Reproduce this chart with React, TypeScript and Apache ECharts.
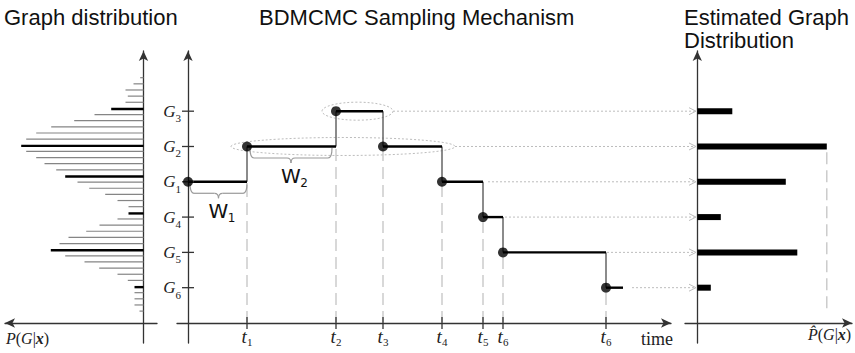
import React, { useEffect, useRef } from "react";
import * as echarts from "echarts";

// ---------- data ----------
const levelNames = ["G6", "G5", "G4", "G1", "G2", "G3"];
const levelValues = [1, 2, 3, 4, 5, 6];

// BDMCMC sampling path (jump times and visited states)
const jumpTimes = [0, 5.9, 14.8, 19.5, 25.4, 29.5, 31.5, 41.8];
const pathStates = ["G1", "G2", "G3", "G2", "G1", "G4", "G5", "G6"];
const pathEnd = 43.5;
const timeTickValues = [5.9, 14.8, 19.5, 25.4, 29.5, 31.5, 41.8];
const timeTickLabels = ["1", "2", "3", "4", "5", "6", "6"];

// true graph distribution (top to bottom)
const trueDist = [3.3, 10, 18, 15.7, 18, 32.3, 49, 69.3, 92.3, 107.3, 117.3, 122.3, 117.3, 107.3, 99, 87.3, 78.3, 66, 54.3, 38.3, 26, 15, 15, 26, 44, 57.3, 75, 84, 92.7, 78.3, 59, 44.3, 26, 15.7, 9, 9, 9, 9, 4];
const trueDistHighlighted = [5, 11, 16, 22, 28, 34];

// estimated graph distribution
const estStates = ["G3", "G2", "G1", "G4", "G5", "G6"];
const estValues = [35, 129.5, 88.5, 23.5, 100, 13.5];

// dotted arrows from sampler to estimate
const arrowStates = ["G3", "G2", "G1", "G4", "G5", "G6"];
const arrowStarts = [20.5, 26.7, 30.0, 31.7, 41.9, 44.4];
const arrowEnd = 50.8;

// dotted ellipses
const ellipseStates = ["G3", "G2"];
const ellipseCenters = [16.95, 15.5];
const ellipseRadii = [3.55, 11.2];

// waiting-time braces
const braceStates = ["G1", "G2"];
const braceFrom = [0.2, 6.2];
const braceTo = [5.9, 14.4];
const braceLabels = ["1", "2"];

// ---------- helpers ----------
const levelOf = (s: string) => levelValues[levelNames.indexOf(s)];
const Y_MIN = -0.567;
const Y_MAX = 7.705;

const SERIF = '"Liberation Serif", "DejaVu Serif", serif';
const SANS = '"Liberation Sans", Arial, sans-serif';

const horizSegs = pathStates.map((s, i) => [jumpTimes[i], levelOf(s), i + 1 < jumpTimes.length ? jumpTimes[i + 1] : pathEnd, levelOf(s)]);
const vertSegs = pathStates.slice(1).map((s, i) => [jumpTimes[i + 1], levelOf(pathStates[i]), jumpTimes[i + 1], levelOf(s)]);
const dashSegs = vertSegs.map((d) => [d[0], 0, d[0], Math.min(d[1], d[3])]);
const dots = pathStates.map((s, i) => [jumpTimes[i], levelOf(s)]);

const segRender = (stroke: string, lineWidth: number, lineDash?: number[]) => (params: any, api: any) => {
  const p0 = api.coord([api.value(0), api.value(1)]);
  const p1 = api.coord([api.value(2), api.value(3)]);
  return {
    type: "line",
    shape: { x1: p0[0], y1: p0[1], x2: p1[0], y2: p1[1] },
    style: { stroke, lineWidth, lineDash: lineDash || null },
  };
};

const subRich = (mainSize: number, subPad: number) => ({
  m: { fontFamily: SERIF, fontStyle: "italic", fontSize: mainSize, color: "#222", lineHeight: mainSize, verticalAlign: "top" },
  s: { fontFamily: SERIF, fontSize: 11, color: "#222", lineHeight: 11, padding: [subPad, 0, 0, 0], verticalAlign: "top" },
});

export default function App() {
  const ref = useRef<HTMLDivElement>(null);
  useEffect(() => {
    if (!ref.current) return;
    const chart = echarts.init(ref.current, null, { renderer: "svg" });
    const axisLineStyle = { color: "#333", width: 1.3 };
    const arrowLine = { show: true, onZero: true, symbol: ["none", "arrow"], symbolSize: [7, 10], lineStyle: axisLineStyle };
    const arrowLineStart = { ...arrowLine, symbol: ["arrow", "none"] };
    const hideBits = { axisTick: { show: false }, splitLine: { show: false }, axisLabel: { show: false } };
    const labelRich = {
      i: { fontFamily: SERIF, fontStyle: "italic", fontSize: 16, fill: "#222" },
      r: { fontFamily: SERIF, fontSize: 16, fill: "#222" },
      b: { fontFamily: SERIF, fontStyle: "italic", fontWeight: "bold", fontSize: 16, fill: "#222" },
    };

    const option: any = {
      animation: false,
      grid: [
        { left: 5, width: 152, top: 51, height: 292, outerBoundsMode: "none" },
        { left: 5, width: 152, top: 78.3, height: 233.4, outerBoundsMode: "none" },
        { left: 177, width: 494, top: 51, height: 292, outerBoundsMode: "none" },
        { left: 685, width: 167, top: 51, height: 292, outerBoundsMode: "none" },
      ],
      xAxis: [
        { gridIndex: 0, type: "value", min: -13.5, max: 138.5, inverse: true, axisLine: arrowLineStart, ...hideBits },
        { gridIndex: 1, type: "value", min: -13.5, max: 138.5, inverse: true, show: false },
        {
          gridIndex: 2, type: "value", min: -1.1, max: 48.3, axisLine: arrowLine,
          axisTick: { show: false }, splitLine: { show: false },
          axisLabel: {
            show: true, customValues: timeTickValues, margin: -16,
            formatter: (v: number) => {
              let best = 0;
              timeTickValues.forEach((t, i) => { if (Math.abs(t - v) < Math.abs(timeTickValues[best] - v)) best = i; });
              return `{m|t}{s|${timeTickLabels[best]}}`;
            },
            rich: subRich(19, 9),
          },
        },
        { gridIndex: 3, type: "value", min: -12.3, max: 154.7, axisLine: arrowLine, ...hideBits },
      ],
      yAxis: [
        { gridIndex: 0, type: "value", min: Y_MIN, max: Y_MAX, axisLine: arrowLine, ...hideBits },
        { gridIndex: 1, type: "category", data: trueDist.map((_, i) => String(i)), inverse: true, boundaryGap: false, show: false },
        {
          gridIndex: 2, type: "value", min: Y_MIN, max: Y_MAX, axisLine: arrowLine,
          axisTick: { show: false }, splitLine: { show: false },
          axisLabel: {
            show: true, customValues: levelValues, margin: -4,
            formatter: (v: number) => {
              const n = levelNames[levelValues.indexOf(v)] || "";
              return `{m|G}{s|${n.slice(1)}}`;
            },
            rich: subRich(17, 10),
          },
        },
        { gridIndex: 3, type: "value", min: Y_MIN, max: Y_MAX, axisLine: arrowLine, ...hideBits },
      ],
      graphic: [
        { type: "text", left: 4, top: 6, style: { text: "Graph distribution", fontSize: 22, fontFamily: SANS, fill: "#111" } },
        { type: "text", left: 259, top: 6, style: { text: "BDMCMC Sampling Mechanism", fontSize: 22, fontFamily: SANS, fill: "#111" } },
        { type: "text", left: 684, top: 6, style: { text: "Estimated Graph\nDistribution", fontSize: 22, lineHeight: 23, fontFamily: SANS, fill: "#111" } },
        { type: "text", left: 6, top: 330, style: { text: "{i|P}{r|(}{i|G}{r||}{b|x}{r|)}", rich: labelRich } },
        { type: "text", left: 641, top: 330, style: { text: "time", fontSize: 18, fontFamily: SERIF, fill: "#222" } },
        { type: "text", left: 808, top: 326, style: { text: "{i|P\u0302}{r|(}{i|G}{r||}{b|x}{r|)}", rich: labelRich } },
      ],
      series: [
        // left: true distribution
        {
          type: "bar", xAxisIndex: 1, yAxisIndex: 1, barWidth: 1.2, barGap: "-100%",
          itemStyle: { color: "#858585" },
          data: trueDist.map((v, i) => (trueDistHighlighted.includes(i) ? "-" : v)),
        },
        {
          type: "bar", xAxisIndex: 1, yAxisIndex: 1, barWidth: 2.4, barGap: "-100%",
          itemStyle: { color: "#000" },
          data: trueDist.map((v, i) => (trueDistHighlighted.includes(i) ? v : "-")),
        },
        // middle: dashed drop lines
        { type: "custom", xAxisIndex: 2, yAxisIndex: 2, z: 1, renderItem: segRender("#c4c4c4", 1.3, [12, 6]), data: dashSegs },
        // dotted ellipses
        {
          type: "custom", xAxisIndex: 2, yAxisIndex: 2, z: 1,
          renderItem: (params: any, api: any) => {
            const c = api.coord([api.value(0), api.value(1)]);
            const rx = api.size([api.value(2), 0])[0];
            return { type: "ellipse", shape: { cx: c[0], cy: c[1], rx, ry: 9 }, style: { fill: "none", stroke: "#bdbdbd", lineWidth: 1, lineDash: [2, 2] } };
          },
          data: ellipseStates.map((s, i) => [ellipseCenters[i], levelOf(s), ellipseRadii[i]]),
        },
        // dotted arrows
        {
          type: "custom", xAxisIndex: 2, yAxisIndex: 2, z: 1,
          renderItem: (params: any, api: any) => {
            const p0 = api.coord([api.value(0), api.value(1)]);
            const p1 = api.coord([api.value(2), api.value(1)]);
            return {
              type: "group",
              children: [
                { type: "line", shape: { x1: p0[0], y1: p0[1], x2: p1[0] - 1, y2: p1[1] }, style: { stroke: "#bdbdbd", lineWidth: 1, lineDash: [2, 2] } },
                { type: "polyline", shape: { points: [[p1[0] - 7, p1[1] - 3.5], [p1[0], p1[1]], [p1[0] - 7, p1[1] + 3.5]] }, style: { stroke: "#bdbdbd", lineWidth: 1, fill: "none" } },
              ],
            };
          },
          data: arrowStates.map((s, i) => [arrowStarts[i], levelOf(s), arrowEnd]),
        },
        // braces
        {
          type: "custom", xAxisIndex: 2, yAxisIndex: 2, z: 2,
          renderItem: (params: any, api: any) => {
            const a = api.coord([api.value(0), api.value(2)]);
            const b = api.coord([api.value(1), api.value(2)]);
            const x0 = a[0], x1 = b[0], y0 = a[1] + 1.5, d = 10, c = 5, r = 4;
            const xm = (x0 + x1) / 2;
            const st = { stroke: "#9a9a9a", lineWidth: 1.2, fill: "none" };
            const label = braceLabels[params.dataIndex];
            return {
              type: "group",
              children: [
                { type: "bezierCurve", shape: { x1: x0, y1: y0, cpx1: x0, cpy1: y0 + d, x2: x0 + r, y2: y0 + d }, style: st },
                { type: "line", shape: { x1: x0 + r, y1: y0 + d, x2: xm - r, y2: y0 + d }, style: st },
                { type: "bezierCurve", shape: { x1: xm - r, y1: y0 + d, cpx1: xm, cpy1: y0 + d, x2: xm, y2: y0 + d + c }, style: st },
                { type: "bezierCurve", shape: { x1: xm + r, y1: y0 + d, cpx1: xm, cpy1: y0 + d, x2: xm, y2: y0 + d + c }, style: st },
                { type: "line", shape: { x1: xm + r, y1: y0 + d, x2: x1 - r, y2: y0 + d }, style: st },
                { type: "bezierCurve", shape: { x1: x1 - r, y1: y0 + d, cpx1: x1, cpy1: y0 + d, x2: x1, y2: y0 }, style: st },
                { type: "text", style: { text: "W", x: xm, y: y0 + d + c + 3, textAlign: "center", textVerticalAlign: "top", fontSize: 20, fontFamily: '"DejaVu Sans", sans-serif', fill: "#111" } },
                { type: "text", style: { text: label, x: xm + 13, y: y0 + d + c + 14, textAlign: "center", textVerticalAlign: "top", fontSize: 12, fontFamily: '"DejaVu Sans", sans-serif', fill: "#111" } },
              ],
            };
          },
          data: braceStates.map((s, i) => [braceFrom[i], braceTo[i], levelOf(s)]),
        },
        // vertical jumps
        { type: "custom", xAxisIndex: 2, yAxisIndex: 2, z: 2, renderItem: segRender("#5a5a5a", 1.4), data: vertSegs },
        // horizontal holding segments
        { type: "custom", xAxisIndex: 2, yAxisIndex: 2, z: 3, renderItem: segRender("#000", 2.4), data: horizSegs },
        // ticks
        {
          type: "custom", xAxisIndex: 2, yAxisIndex: 2, z: 3,
          renderItem: (params: any, api: any) => {
            const p = api.coord([api.value(0), api.value(1)]);
            const vertical = api.value(2) === 1;
            return {
              type: "line",
              shape: vertical ? { x1: p[0], y1: p[1] - 6, x2: p[0], y2: p[1] + 6 } : { x1: p[0] - 6, y1: p[1], x2: p[0] + 6, y2: p[1] },
              style: { stroke: "#333", lineWidth: 1.3 },
            };
          },
          data: [...timeTickValues.map((t) => [t, 0, 1]), ...levelValues.map((l) => [0, l, 0])],
        },
        // state dots
        { type: "scatter", xAxisIndex: 2, yAxisIndex: 2, z: 4, symbolSize: 10, itemStyle: { color: "#000" }, data: dots },
        // right: estimated distribution bars
        {
          type: "custom", xAxisIndex: 3, yAxisIndex: 3, z: 3,
          renderItem: (params: any, api: any) => {
            const p0 = api.coord([0, api.value(1)]);
            const p1 = api.coord([api.value(0), api.value(1)]);
            return { type: "rect", shape: { x: p0[0], y: p0[1] - 3, width: p1[0] - p0[0], height: 6 }, style: { fill: "#000" } };
          },
          data: estStates.map((s, i) => [estValues[i], levelOf(s)]),
        },
        // right: dashed marker at the maximum estimate
        {
          type: "custom", xAxisIndex: 3, yAxisIndex: 3, z: 1,
          renderItem: segRender("#c4c4c4", 1.3, [12, 6]),
          data: [[Math.max(...estValues), 0.42, Math.max(...estValues), levelOf(estStates[estValues.indexOf(Math.max(...estValues))]) - 0.09]],
        },
      ],
    };
    chart.setOption(option);
    return () => chart.dispose();
  }, []);
  return <div ref={ref} style={{ position: "fixed", left: 0, top: 0, width: 855, height: 353, background: "#fff" }} />;
}
